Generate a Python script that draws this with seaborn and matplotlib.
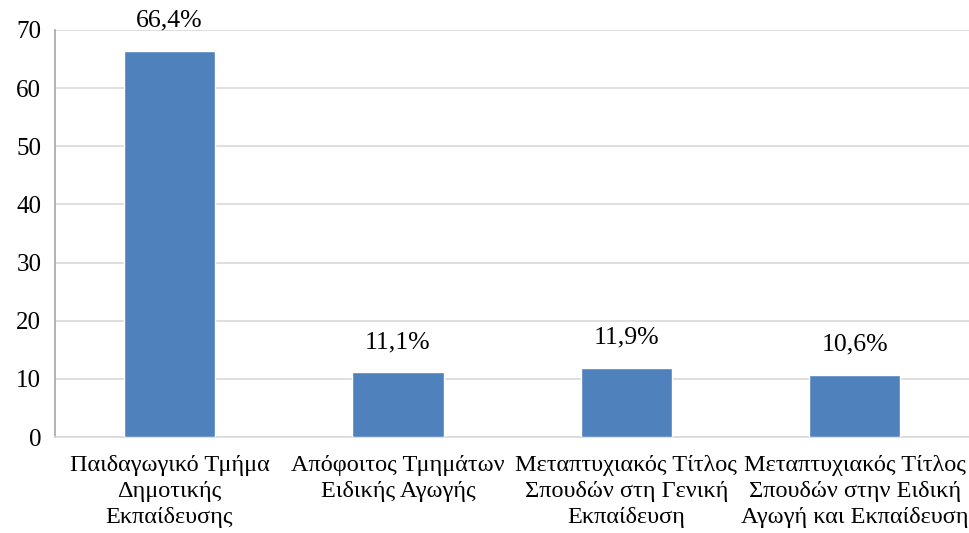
import matplotlib
matplotlib.use("Agg")
import matplotlib.pyplot as plt
import seaborn as sns
import pandas as pd

categories = [
    "Παιδαγωγικό Τμήμα\nΔημοτικής\nΕκπαίδευσης",
    "Απόφοιτος Τμημάτων\nΕιδικής Αγωγής",
    "Μεταπτυχιακός Τίτλος\nΣπουδών στη Γενική\nΕκπαίδευση",
    "Μεταπτυχιακός Τίτλος\nΣπουδών στην Ειδική\nΑγωγή και Εκπαίδευση",
]
values = [66.4, 11.1, 11.9, 10.6]
value_labels = ["66,4%", "11,1%", "11,9%", "10,6%"]
y_ticks = [0, 10, 20, 30, 40, 50, 60, 70]

sns.set_theme(style="white")
plt.rcParams["font.family"] = ["Liberation Serif", "DejaVu Serif"]

df = pd.DataFrame({"category": categories, "value": values})

fig = plt.figure(figsize=(9.69, 5.33), dpi=100)
ax = fig.add_axes([0.057, 0.180, 0.943, 0.764])

sns.barplot(data=df, x="category", y="value", color="#4f81bd",
            width=0.4, saturation=1, ax=ax, zorder=3)

ax.set_ylim(0, 70)
ax.set_yticks(y_ticks)
ax.set_xlim(-0.5, len(categories) - 0.5)
ax.yaxis.grid(True, color="#d9d9d9", linewidth=1.2, zorder=0)
ax.set_axisbelow(True)
ax.set_xlabel("")
ax.set_ylabel("")

for side in ["top", "right"]:
    ax.spines[side].set_visible(False)
ax.spines["left"].set_color("#a6a6a6")
ax.spines["left"].set_linewidth(1.2)
ax.spines["bottom"].set_color("#d9d9d9")
ax.spines["bottom"].set_linewidth(1.2)

ax.tick_params(axis="x", length=0, labelsize=17.5, colors="black", pad=13)
ax.tick_params(axis="y", length=0, labelsize=18, colors="black", pad=10)
for lbl in ax.get_xticklabels():
    lbl.set_linespacing(1.32)

for i, (v, txt) in enumerate(zip(values, value_labels)):
    ax.annotate(txt, xy=(i, v), xytext=(0, 14), textcoords="offset points",
                ha="center", va="bottom", fontsize=18.5, color="black")

fig.savefig("out.png", dpi=100)
